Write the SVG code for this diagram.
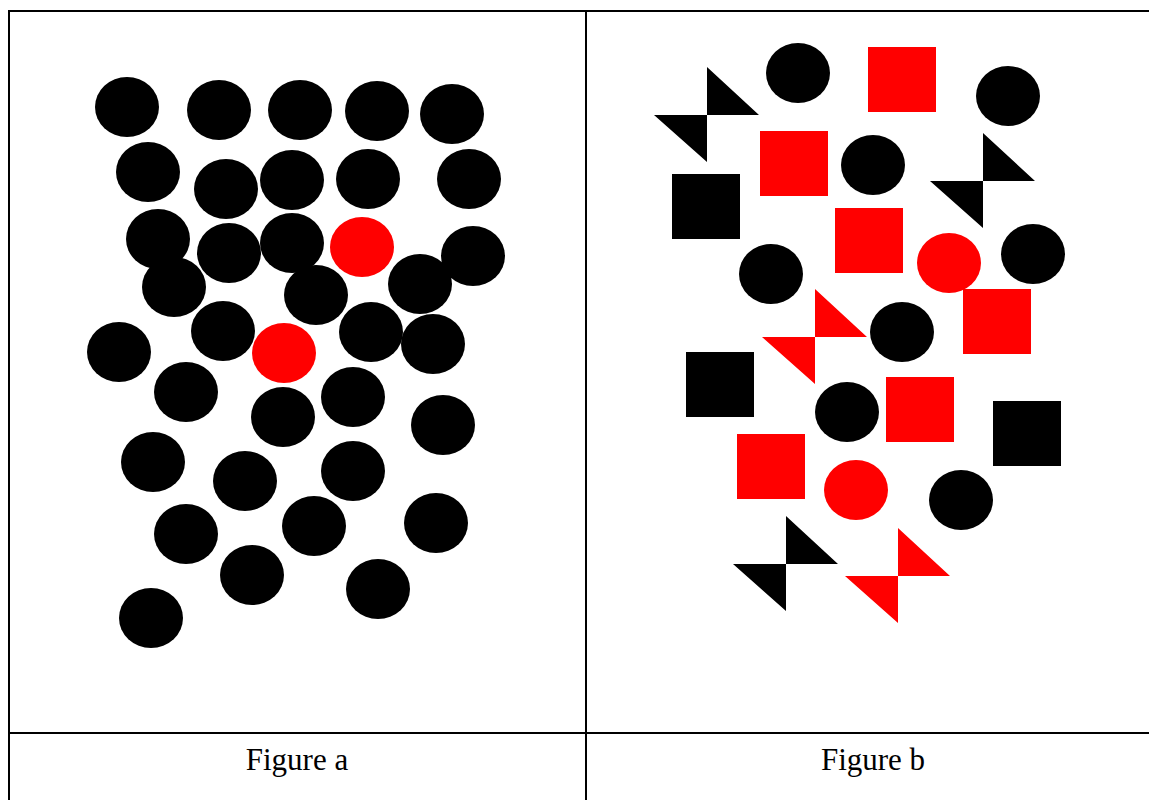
<svg xmlns="http://www.w3.org/2000/svg" width="1149" height="800" viewBox="0 0 1149 800">
<style>
.k{fill:#000}
.r{fill:#f00}
.ln{stroke:#000;stroke-width:2;fill:none}
.cap{font-family:"Liberation Serif","Times New Roman",serif;font-size:31px;fill:#000;text-anchor:middle}
</style>
<defs>
<ellipse id="c" cx="0" cy="0" rx="32" ry="30"/>
<rect id="s" x="0" y="0" width="68" height="65"/>
<path id="bt" d="M0,-48 L0,0 L52,0 Z M-53,0 L0,0 L0,47 Z"/>
</defs>
<rect width="1149" height="800" fill="#fff"/>
<g id="table">
<line class="ln" x1="8" y1="11" x2="1149" y2="11"/>
<line class="ln" x1="9" y1="10" x2="9" y2="800"/>
<line class="ln" x1="586" y1="10" x2="586" y2="800"/>
<line class="ln" x1="8" y1="733" x2="1149" y2="733"/>
</g>
<g id="figure-a">
<use href="#c" class="k" x="127" y="107"/>
<use href="#c" class="k" x="219" y="110"/>
<use href="#c" class="k" x="300" y="110"/>
<use href="#c" class="k" x="377" y="111"/>
<use href="#c" class="k" x="452" y="114"/>
<use href="#c" class="k" x="148" y="172"/>
<use href="#c" class="k" x="226" y="189"/>
<use href="#c" class="k" x="292" y="180"/>
<use href="#c" class="k" x="368" y="179"/>
<use href="#c" class="k" x="469" y="179"/>
<use href="#c" class="k" x="158" y="239"/>
<use href="#c" class="k" x="229" y="253"/>
<use href="#c" class="k" x="292" y="243"/>
<use href="#c" class="r" x="362" y="247"/>
<use href="#c" class="k" x="473" y="256"/>
<use href="#c" class="k" x="174" y="287"/>
<use href="#c" class="k" x="316" y="295"/>
<use href="#c" class="k" x="420" y="284"/>
<use href="#c" class="k" x="223" y="331"/>
<use href="#c" class="r" x="284" y="353"/>
<use href="#c" class="k" x="371" y="332"/>
<use href="#c" class="k" x="433" y="344"/>
<use href="#c" class="k" x="119" y="352"/>
<use href="#c" class="k" x="186" y="392"/>
<use href="#c" class="k" x="283" y="417"/>
<use href="#c" class="k" x="353" y="397"/>
<use href="#c" class="k" x="443" y="425"/>
<use href="#c" class="k" x="153" y="462"/>
<use href="#c" class="k" x="245" y="481"/>
<use href="#c" class="k" x="353" y="471"/>
<use href="#c" class="k" x="186" y="534"/>
<use href="#c" class="k" x="314" y="526"/>
<use href="#c" class="k" x="436" y="523"/>
<use href="#c" class="k" x="252" y="575"/>
<use href="#c" class="k" x="378" y="589"/>
<use href="#c" class="k" x="151" y="618"/>
</g>
<g id="figure-b">
<use href="#bt" class="k" x="707" y="115"/>
<use href="#c" class="k" x="798" y="73"/>
<use href="#s" class="r" x="868" y="47"/>
<use href="#c" class="k" x="1008" y="96"/>
<use href="#s" class="r" x="760" y="131"/>
<use href="#c" class="k" x="873" y="165"/>
<use href="#bt" class="k" x="983" y="181"/>
<use href="#s" class="k" x="672" y="174"/>
<use href="#s" class="r" x="835" y="208"/>
<use href="#c" class="k" x="771" y="274"/>
<use href="#c" class="r" x="949" y="263"/>
<use href="#c" class="k" x="1033" y="254"/>
<use href="#s" class="r" x="963" y="289"/>
<use href="#bt" class="r" x="815" y="337"/>
<use href="#c" class="k" x="902" y="332"/>
<use href="#s" class="k" x="686" y="352"/>
<use href="#c" class="k" x="847" y="412"/>
<use href="#s" class="r" x="886" y="377"/>
<use href="#s" class="k" x="993" y="401"/>
<use href="#s" class="r" x="737" y="434"/>
<use href="#c" class="r" x="856" y="490"/>
<use href="#c" class="k" x="961" y="500"/>
<use href="#bt" class="k" x="786" y="564"/>
<use href="#bt" class="r" x="898" y="576"/>
</g>
<g id="captions">
<text class="cap" x="297" y="770">Figure a</text>
<text class="cap" x="873" y="770">Figure b</text>
</g>
</svg>
